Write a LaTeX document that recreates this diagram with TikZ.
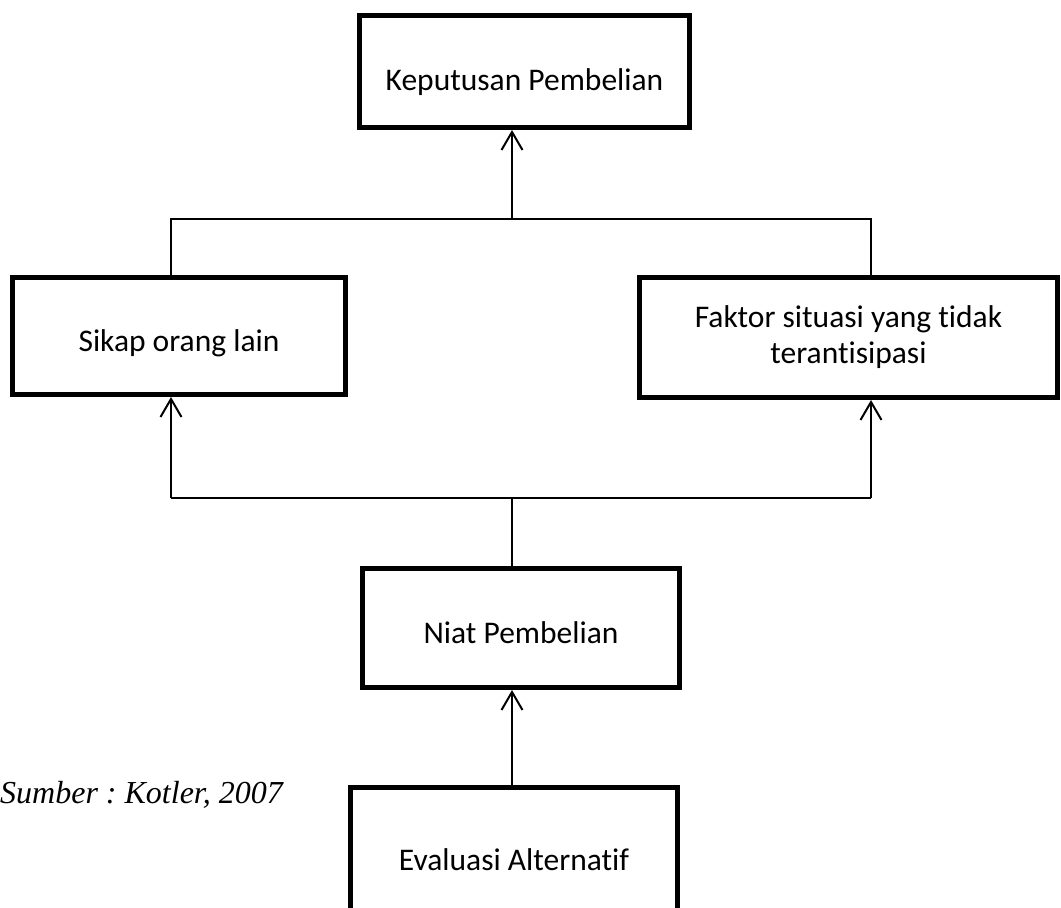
\documentclass[tikz,border=0pt]{standalone}
\usepackage{fontspec}
\setmainfont{Carlito}[Ligatures=NoCommon]
\newfontfamily\timesf{Liberation Serif}
\usetikzlibrary{arrows.meta}
\frenchspacing
\begin{document}
\begin{tikzpicture}[x=1pt,y=-1pt,
  box/.style={draw, line width=5pt, inner sep=0pt, text depth=0pt,
    font=\fontsize{31.5}{33}\selectfont},
  conn/.style={line width=1.5pt},
  arr/.style={line width=2pt, -{Straight Barb[length=18pt,width=21pt,line width=2pt]}}]
\useasboundingbox (0,0) rectangle (1061,908);
\node[box, minimum width=330pt, minimum height=112pt, text height=37pt] (kp) at (524.5,71.5) {Keputusan Pembelian};
\node[box, minimum width=333pt, minimum height=117pt, text height=30pt] (sk) at (179,336) {Sikap orang lain};
\node[box, minimum width=418pt, minimum height=120pt, align=center, text depth=] (fk) at (848.5,337.5) {Faktor situasi yang tidak\\[3pt]terantisipasi};
\node[box, minimum width=317pt, minimum height=119pt, text height=30pt] (ni) at (521,628) {Niat Pembelian};
\node[box, minimum width=327pt, minimum height=135pt, text height=30pt] (ev) at (514,855) {Evaluasi Alternatif};
\node[anchor=base west, inner sep=0pt, font=\timesf\itshape\fontsize{32}{36}\selectfont] (src) at (0,803) {Sumber : Kotler, 2007};
\coordinate (t1) at (512,219);
\coordinate (tl) at (171,219);
\coordinate (tr) at (871,219);
\coordinate (b1) at (512,498);
\coordinate (bl) at (171,498);
\coordinate (br) at (871,498);
\draw[conn] (tl |- sk.north) -- (tl) -- (tr) -- (tr |- fk.north);
\draw[arr] (t1) -- (t1 |- kp.south);
\draw[conn] (bl) -- (br);
\draw[conn] (ni.north -| b1) -- (b1);
\draw[arr] (bl) -- (bl |- sk.south);
\draw[arr] (br) -- (br |- fk.south);
\draw[arr] (ev.north -| b1) -- (b1 |- ni.south);
\end{tikzpicture}
\end{document}
